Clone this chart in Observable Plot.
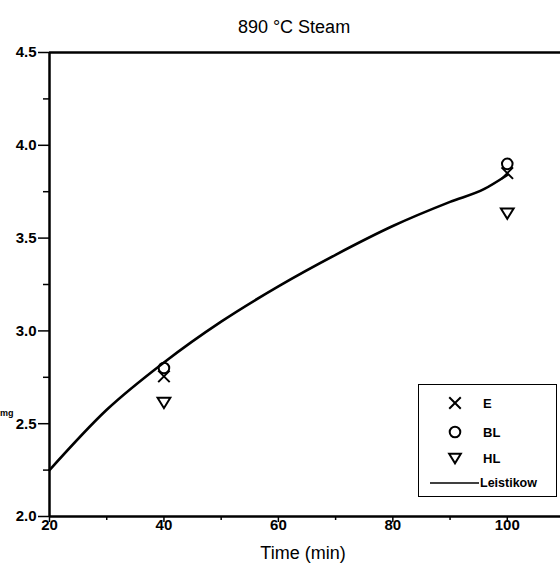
<!DOCTYPE html>
<html>
<head>
<meta charset="utf-8">
<script src="https://cdn.jsdelivr.net/npm/d3@7"></script>
<script src="https://cdn.jsdelivr.net/npm/@observablehq/plot@0.6"></script>
<style>
  html, body { margin: 0; padding: 0; background: #fff; }
  #wrap { position: relative; width: 560px; height: 574px; overflow: hidden; font-family: "Liberation Sans", Arial, sans-serif; }
  #legend { position: absolute; left: 418px; top: 384px; width: 137px; height: 111px; border: 1.5px solid #000; background: #fff; }
  #legend svg { position: absolute; left: 0; top: 0; }
  #ylab { position: absolute; left: 0px; top: 408px; font-size: 9px; font-weight: bold; }
</style>
</head>
<body>
<div id="wrap"></div>
<script>
// Leistikow correlation (line)
const lineTimes = [20, 30, 40, 50, 60, 70, 80, 90, 96, 100];
const lineValues = [2.25, 2.575, 2.83, 3.05, 3.24, 3.41, 3.565, 3.695, 3.765, 3.84];
// Measured samples
const sampleTimes = [40, 100];
const eValues = [2.755, 3.85];
const blValues = [2.80, 3.90];
const hlValues = [2.615, 3.635];
// Tick labels
const xMajor = [20, 40, 60, 80, 100];
const xMinor = [30, 50, 70, 90];
const yMajor = [2.0, 2.5, 3.0, 3.5, 4.0, 4.5];
const yMinor = [2.25, 2.75, 3.25, 3.75, 4.25];
const titleText = "890 °C Steam";
const xLabel = "Time (min)";
const legendNames = ["E", "BL", "HL", "Leistikow"];

const lineData = lineTimes.map((t, i) => ({t, v: lineValues[i]}));
const eData = sampleTimes.map((t, i) => ({t, v: eValues[i]}));
const blData = sampleTimes.map((t, i) => ({t, v: blValues[i]}));
const hlData = sampleTimes.map((t, i) => ({t, v: hlValues[i]}));

const triangleDown = {
  draw(context, size) {
    const r = Math.sqrt(size / Math.PI);
    context.moveTo(-r * 1.1, -r * 0.8);
    context.lineTo(r * 1.1, -r * 0.8);
    context.lineTo(0, r * 1.0);
    context.closePath();
  }
};

const chart = Plot.plot({
  width: 560,
  height: 574,
  marginLeft: 49,
  marginTop: 52,
  marginBottom: 58,
  marginRight: 0,
  style: {fontFamily: "'Liberation Sans', Arial, sans-serif", background: "#fff"},
  x: {domain: [20, 109.3]},
  y: {domain: [2, 4.5]},
  marks: [
    Plot.axisX({ticks: xMajor, tickSize: 6, tickPadding: -3, tickFormat: d => String(d), label: null,
      fontSize: 15, fontWeight: "bold", strokeWidth: 1.5}),
    Plot.axisX({ticks: xMinor, tickSize: 4, tickFormat: () => "", label: null, strokeWidth: 1.5}),
    Plot.axisY({ticks: yMajor, tickSize: 11, tickPadding: 2, tickFormat: d => d.toFixed(1), label: null,
      fontSize: 15, fontWeight: "bold", strokeWidth: 1.5}),
    Plot.axisY({ticks: yMinor, tickSize: 6, tickFormat: () => "", label: null, strokeWidth: 1.5}),
    Plot.ruleX([20], {strokeWidth: 2.5}),
    Plot.ruleY([2], {strokeWidth: 2.5}),
    Plot.ruleY([4.5], {strokeWidth: 2.5}),
    Plot.line(lineData, {x: "t", y: "v", strokeWidth: 2.6, curve: "monotone-x"}),
    Plot.dot(eData, {x: "t", y: "v", symbol: "times", r: 5.3, stroke: "#000", strokeWidth: 2}),
    Plot.dot(blData, {x: "t", y: "v", symbol: "circle", r: 5.3, stroke: "#000", strokeWidth: 2}),
    Plot.dot(hlData, {x: "t", y: "v", symbol: triangleDown, r: 5.8, stroke: "#000", strokeWidth: 2}),
    Plot.text([titleText], {frameAnchor: "top", dy: -32, dx: -11, fontSize: 18, text: d => d}),
    Plot.text([xLabel], {frameAnchor: "bottom", dy: 42, dx: -2, fontSize: 18, text: d => d})
  ]
});
document.getElementById("wrap").appendChild(chart);

// Legend
const legend = document.createElement("div");
legend.id = "legend";
const svgNS = "http://www.w3.org/2000/svg";
const lsvg = document.createElementNS(svgNS, "svg");
lsvg.setAttribute("width", 137);
lsvg.setAttribute("height", 111);
const rowY = [18, 47, 73, 98];
const symX = 36, textX = 64;
const syms = [d3.symbolTimes, d3.symbolCircle, triangleDown];
legendNames.forEach((name, i) => {
  if (i < 3) {
    const p = document.createElementNS(svgNS, "path");
    p.setAttribute("d", d3.symbol(syms[i], Math.PI * 5.3 * 5.3)());
    p.setAttribute("transform", `translate(${symX},${rowY[i]})`);
    p.setAttribute("fill", "none");
    p.setAttribute("stroke", "#000");
    p.setAttribute("stroke-width", 2);
    lsvg.appendChild(p);
  } else {
    const l = document.createElementNS(svgNS, "line");
    l.setAttribute("x1", 11); l.setAttribute("x2", 60);
    l.setAttribute("y1", rowY[i]); l.setAttribute("y2", rowY[i]);
    l.setAttribute("stroke", "#000"); l.setAttribute("stroke-width", 1.5);
    lsvg.appendChild(l);
  }
  const t = document.createElementNS(svgNS, "text");
  t.setAttribute("x", i < 3 ? textX : 61);
  t.setAttribute("y", rowY[i]);
  t.setAttribute("dy", "0.35em");
  t.setAttribute("font-size", i < 3 ? 13 : 12.5);
  t.setAttribute("font-weight", "bold");
  t.setAttribute("font-family", "'Liberation Sans', Arial, sans-serif");
  t.textContent = name;
  lsvg.appendChild(t);
});
legend.appendChild(lsvg);
document.getElementById("wrap").appendChild(legend);

const ylab = document.createElement("div");
ylab.id = "ylab";
ylab.textContent = "mg";
document.getElementById("wrap").appendChild(ylab);
</script>
</body>
</html>
